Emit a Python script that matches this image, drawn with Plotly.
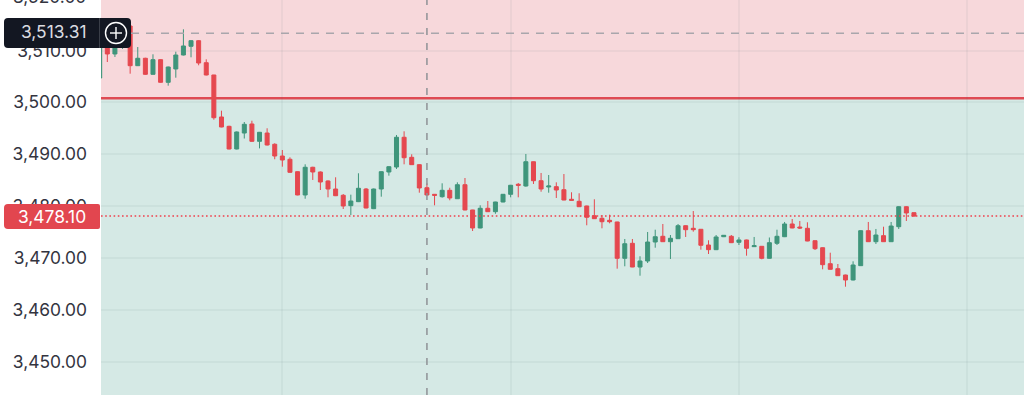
import plotly.graph_objects as go

opens = [3504.70,3511.25,3509.33,3510.67,3514.72,3507.07,3508.50,3505.41,3508.23,3503.87,3506.44,3509.13,3510.81,3511.89,3507.65,3505.28,3497.19,3495.39,3491.02,3494.10,
3495.84,3492.50,3494.10,3491.93,3489.67,3489.04,3486.65,3482.16,3487.50,3486.59,3484.86,3483.31,3482.10,3480.10,3480.87,3483.31,3479.52,3483.31,3486.59,3487.55,
3493.28,3489.42,3488.00,3483.56,3482.29,3481.83,3483.06,3481.44,3484.14,3479.27,3475.80,3479.60,3478.94,3480.81,3482.29,3484.22,3483.89,3488.57,3484.91,3483.70,
3483.76,3483.18,3481.33,3480.94,3480.04,3478.17,3477.67,3477.28,3476.96,3469.96,3472.85,3468.28,3469.44,3473.10,3474.20,3473.16,3473.74,3476.24,3475.74,3475.55,
3472.52,3471.62,3474.12,3474.20,3473.04,3473.49,3472.20,3472.27,3469.96,3472.85,3474.12,3476.57,3475.99,3475.74,3473.35,3472.00,3468.92,3467.96,3466.74,3465.78,
3468.54,3475.28,3473.16,3474.32,3473.16,3476.05,3479.90,3478.75]
highs = [3512.02,3512.02,3511.06,3513.20,3514.90,3510.67,3508.60,3509.27,3508.30,3506.90,3509.77,3514.08,3512.00,3512.00,3508.30,3505.30,3498.40,3495.50,3494.40,3496.22,
3496.47,3494.30,3495.01,3492.12,3490.83,3489.42,3486.70,3488.07,3487.60,3486.70,3484.99,3485.57,3482.35,3482.22,3486.34,3483.50,3483.40,3486.70,3487.70,3493.72,
3494.43,3490.00,3488.05,3484.41,3482.35,3484.41,3483.56,3484.60,3485.43,3479.30,3480.17,3481.00,3480.85,3482.35,3484.10,3484.47,3490.06,3488.60,3486.40,3486.01,
3484.60,3486.20,3482.68,3482.49,3480.10,3481.33,3478.30,3478.36,3477.00,3473.68,3473.68,3470.35,3475.03,3475.47,3476.57,3474.45,3476.57,3476.30,3479.07,3475.60,
3473.43,3474.45,3474.45,3474.45,3474.01,3473.55,3474.07,3472.30,3473.97,3475.47,3476.96,3477.53,3477.15,3476.90,3473.40,3472.05,3471.04,3468.86,3466.80,3469.38,
3475.35,3476.96,3475.61,3476.05,3476.96,3480.00,3480.00,3478.80]
lows = [3504.70,3507.78,3508.75,3510.30,3505.53,3507.01,3505.30,3505.35,3503.80,3503.22,3504.76,3509.05,3508.69,3507.15,3505.20,3496.67,3495.20,3490.95,3490.95,3493.04,
3492.40,3491.14,3491.70,3489.04,3487.61,3486.45,3482.10,3481.44,3485.05,3483.12,3481.71,3481.95,3479.46,3478.30,3480.80,3479.60,3479.45,3481.83,3485.88,3487.17,
3488.07,3487.95,3482.60,3481.97,3480.17,3481.64,3481.14,3481.40,3479.20,3475.22,3475.75,3478.90,3478.54,3480.75,3481.71,3481.71,3483.76,3484.28,3482.79,3482.60,
3481.58,3481.15,3481.10,3479.85,3476.32,3477.55,3475.74,3476.70,3467.96,3468.42,3468.25,3466.61,3469.05,3472.00,3473.10,3469.83,3473.70,3474.07,3475.09,3471.62,
3470.79,3471.55,3474.05,3472.90,3472.52,3470.46,3472.15,3469.77,3469.90,3472.52,3474.05,3475.75,3475.61,3473.25,3471.56,3467.84,3467.80,3466.55,3464.49,3465.70,
3468.50,3473.10,3472.72,3473.10,3473.10,3475.61,3477.15,3477.95]
closes = [3511.06,3509.33,3510.67,3512.79,3507.07,3508.50,3505.41,3508.23,3503.87,3506.82,3509.13,3510.87,3511.89,3507.59,3505.28,3497.05,3495.26,3491.02,3494.30,3495.78,
3492.50,3494.24,3491.79,3489.67,3488.90,3486.53,3482.16,3487.50,3486.59,3484.66,3483.31,3482.02,3480.04,3481.00,3483.45,3479.65,3483.31,3486.65,3487.61,3493.28,
3489.34,3488.00,3483.51,3482.16,3482.10,3483.06,3481.58,3484.14,3479.27,3475.80,3479.60,3478.94,3480.81,3482.29,3484.03,3484.03,3488.57,3484.91,3483.31,3483.89,
3483.12,3481.19,3481.14,3479.90,3477.86,3477.59,3477.01,3477.01,3469.96,3472.77,3468.28,3469.44,3473.10,3474.12,3473.16,3473.82,3476.24,3475.47,3475.47,3472.47,
3471.62,3474.07,3474.39,3472.97,3473.49,3471.89,3472.39,3469.96,3472.97,3474.20,3476.57,3475.80,3475.80,3473.29,3471.81,3468.73,3467.84,3466.61,3465.78,3468.67,
3475.28,3473.16,3474.45,3473.16,3476.18,3479.90,3478.69,3478.10]
candle_index = list(range(len(opens)))

y_ticks = [3450, 3460, 3470, 3480, 3490, 3500, 3510]
x_grid = [24, 54, 84, 114]
entry_level = 3500.8
last_price = 3478.10
cursor_price = 3513.31
cursor_candle = 43
y_range = [3443.62, 3519.73]
x_range = [0.17, 121.46]

W, H, L = 1024, 395, 101
RED, GREEN = "#E5484F", "#3F957B"
DARK = "#131722"
FONT = "Inter, 'Noto Sans', sans-serif"
TEXT_SIZE = 17.4

def px(x):
    return (x - L) / (W - L)

def py(y):
    return 1 - y / H

def rounded(x0, y0, x1, y1, rl, rr):
    return (f"M {px(x0+rl)} {py(y0)} L {px(x1-rr)} {py(y0)} Q {px(x1)} {py(y0)} {px(x1)} {py(y0+rr)} "
            f"L {px(x1)} {py(y1-rr)} Q {px(x1)} {py(y1)} {px(x1-rr)} {py(y1)} L {px(x0+rl)} {py(y1)} "
            f"Q {px(x0)} {py(y1)} {px(x0)} {py(y1-rl)} L {px(x0)} {py(y0+rl)} Q {px(x0)} {py(y0)} {px(x0+rl)} {py(y0)} Z")

fig = go.Figure(go.Candlestick(
    x=candle_index, open=opens, high=highs, low=lows, close=closes,
    increasing=dict(line=dict(color=GREEN, width=1), fillcolor=GREEN),
    decreasing=dict(line=dict(color=RED, width=1), fillcolor=RED),
    whiskerwidth=0, hoverinfo="skip", showlegend=False,
))

shapes = [
    dict(type="rect", xref="paper", x0=0, x1=1, yref="y", y0=entry_level, y1=y_range[1], fillcolor="#F7D8DB", line_width=0, layer="below"),
    dict(type="rect", xref="paper", x0=0, x1=1, yref="y", y0=y_range[0], y1=entry_level, fillcolor="#D5E9E5", line_width=0, layer="below"),
    dict(type="line", xref="paper", x0=0, x1=1, yref="y", y0=entry_level, y1=entry_level, line=dict(color="#DF4A53", width=2.7), layer="between"),
    dict(type="line", xref="paper", x0=0, x1=1, yref="y", y0=last_price, y1=last_price, line=dict(color="#F0404C", width=1.6, dash="1.6px 2.6px"), layer="above"),
    dict(type="line", xref="paper", x0=0, x1=1, yref="y", y0=cursor_price, y1=cursor_price, line=dict(color="#A9A6AC", width=1.5, dash="8px 7px"), layer="above"),
    dict(type="line", x0=cursor_candle, x1=cursor_candle, xref="x", yref="paper", y0=0, y1=1, line=dict(color="#8E9296", width=1.5, dash="7px 8px"), layer="above"),
    dict(type="path", xref="paper", yref="paper", path=rounded(4, 18, 131, 48, 4, 4), fillcolor=DARK, line_width=0, layer="above"),
    dict(type="line", xref="paper", yref="paper", x0=px(99.5), x1=px(99.5), y0=py(18), y1=py(48), line=dict(color="#3A3E48", width=1), layer="above"),
    dict(type="path", xref="paper", yref="paper", path=rounded(4, 204, 100, 229, 4, 2), fillcolor="#E2464F", line_width=0, layer="above"),
    dict(type="circle", xref="paper", yref="paper", x0=px(105.5), x1=px(126.5), y0=py(43.5), y1=py(22.5), line=dict(color="#FFFFFF", width=1.4), layer="above"),
    dict(type="line", xref="paper", yref="paper", x0=px(110), x1=px(122), y0=py(33), y1=py(33), line=dict(color="#FFFFFF", width=1.4), layer="above"),
    dict(type="line", xref="paper", yref="paper", x0=px(116), x1=px(116), y0=py(27), y1=py(39), line=dict(color="#FFFFFF", width=1.4), layer="above"),
]

annotations = [
    dict(text=f"{cursor_price:,.2f}", xref="paper", yref="paper", x=px(87.5), y=py(31.5), xanchor="right", yanchor="middle",
         showarrow=False, font=dict(family=FONT, size=TEXT_SIZE, color="#DADBE0")),
    dict(text=f"{last_price:,.2f}", xref="paper", yref="paper", x=px(87.5), y=py(216), xanchor="right", yanchor="middle",
         showarrow=False, font=dict(family=FONT, size=TEXT_SIZE, color="#FFFFFF")),
    dict(text="3,520.00", xref="paper", yref="paper", x=px(87.5), y=py(-3.4), xanchor="right", yanchor="middle",
         showarrow=False, font=dict(family=FONT, size=TEXT_SIZE, color="#33343F")),
]

fig.update_layout(
    width=W, height=H, margin=dict(l=L, r=0, t=0, b=0),
    paper_bgcolor="#FFFFFF", plot_bgcolor="#D5E9E5",
    shapes=shapes, annotations=annotations, showlegend=False, boxgap=0.25,
    xaxis=dict(range=x_range, tickvals=x_grid, showticklabels=False, showgrid=True, gridcolor="rgba(70,100,100,0.06)", gridwidth=1.5,
               zeroline=False, showline=False, rangeslider=dict(visible=False), ticks=""),
    yaxis=dict(range=y_range, tickvals=y_ticks, tickformat=",.2f", showgrid=True, gridcolor="rgba(70,100,100,0.06)", gridwidth=1.5,
               zeroline=False, showline=False, ticks="", ticklabelstandoff=13,
               tickfont=dict(family=FONT, size=TEXT_SIZE, color="#33343F")),
)

fig.write_html("out.html", config=dict(displayModeBar=False),
               post_script="document.body.style.margin='0';document.documentElement.style.overflow='hidden';")
